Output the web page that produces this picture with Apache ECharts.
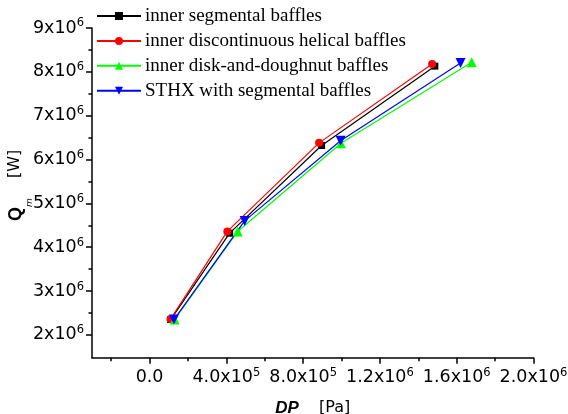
<!DOCTYPE html>
<html>
<head>
<meta charset="utf-8">
<script src="https://cdn.jsdelivr.net/npm/echarts@6/dist/echarts.min.js"></script>
<style>
  html, body { margin: 0; padding: 0; background: #fff; }
  #chart { width: 568px; height: 414px; }
</style>
</head>
<body>
<div id="chart"></div>
<script>
// Heat transfer rate vs. pressure drop for four baffle configurations
const seriesNames = [
  'inner segmental baffles',
  'inner discontinuous helical baffles',
  'inner disk-and-doughnut baffles',
  'STHX with segmental baffles'
];
// [pressure drop DP (Pa), heat rate Qm (W)]
const innerSegmental = [[1.10e5, 2.35e6], [4.17e5, 4.32e6], [8.96e5, 6.32e6], [1.486e6, 8.13e6]];
const innerHelical   = [[1.09e5, 2.36e6], [4.05e5, 4.36e6], [8.83e5, 6.38e6], [1.472e6, 8.18e6]];
const innerDisk      = [[1.30e5, 2.35e6], [4.59e5, 4.36e6], [9.97e5, 6.37e6], [1.678e6, 8.22e6]];
const sthxSegmental  = [[1.27e5, 2.35e6], [4.95e5, 4.60e6], [9.95e5, 6.43e6], [1.620e6, 8.20e6]];

const xMajorTicks = [0, 4e5, 8e5, 1.2e6, 1.6e6, 2.0e6];
const xMinorTicks = [-2e5, 2e5, 6e5, 1.0e6, 1.4e6, 1.8e6];
const yMajorTicks = [2e6, 3e6, 4e6, 5e6, 6e6, 7e6, 8e6, 9e6];
const yMinorTicks = [2.5e6, 3.5e6, 4.5e6, 5.5e6, 6.5e6, 7.5e6, 8.5e6];

const labelFont = 'DejaVu Sans';

function sciLabel(v, digits) {
  if (v === 0) return '{b|0.0}';
  const exp = Math.floor(Math.log10(Math.abs(v)) + 1e-9);
  const mant = v / Math.pow(10, exp);
  return '{b|' + mant.toFixed(digits) + 'x10}{s|' + exp + '}';
}

const richSci = {
  b: { fontFamily: labelFont, fontSize: 17.5, lineHeight: 21, color: '#000' },
  s: { fontFamily: labelFont, fontSize: 11.5, lineHeight: 11, verticalAlign: 'top', color: '#000' }
};

const axisLineStyle = { color: '#000', width: 1.5 };

const chart = echarts.init(document.getElementById('chart'), null, { renderer: 'canvas' });

function lineSeries(name, data, color, symbol, size, rotate) {
  return {
    name: name,
    type: 'line',
    data: data,
    xAxisIndex: 0,
    yAxisIndex: 0,
    symbol: symbol,
    symbolSize: size,
    symbolRotate: rotate || 0,
    showAllSymbol: true,
    lineStyle: { color: color, width: 1.2 },
    itemStyle: { color: color, borderWidth: 0 },
    emphasis: { disabled: true },
    animation: false
  };
}

chart.setOption({
  animation: false,
  backgroundColor: '#fff',
  grid: { left: 92, right: 34.5, top: 28, bottom: 56.3, containLabel: false, outerBoundsMode: 'none' },
  legend: {
    left: 96,
    top: 6,
    padding: 0,
    orient: 'vertical',
    itemWidth: 44,
    itemHeight: 10,
    itemGap: 4.9,
    textStyle: { fontFamily: 'Liberation Serif', fontSize: 19, lineHeight: 20, color: '#000', padding: [0, 0, 0, -1] },
    data: seriesNames
  },
  xAxis: [
    {
      type: 'value',
      min: -3e5,
      max: 2.0e6,
      position: 'bottom',
      splitLine: { show: false },
      axisLine: { show: true, onZero: false, lineStyle: axisLineStyle },
      axisTick: { show: true, inside: false, length: 6, lineStyle: axisLineStyle, customValues: xMajorTicks },
      axisLabel: {
        margin: 9,
        customValues: xMajorTicks,
        formatter: v => sciLabel(v, 1),
        rich: richSci
      },
      name: '{dp|DP}{pa|    [Pa]}',
      nameLocation: 'middle',
      nameGap: 42,
      nameMoveOverlap: false,
      nameTextStyle: {
        rich: {
          dp: { fontFamily: 'Liberation Sans', fontSize: 17, fontWeight: 'bold', fontStyle: 'italic', color: '#000' },
          pa: { fontFamily: labelFont, fontSize: 16, color: '#000' }
        }
      }
    },
    {
      type: 'value',
      min: -3e5,
      max: 2.0e6,
      position: 'bottom',
      splitLine: { show: false },
      axisLine: { show: false, onZero: false },
      axisTick: { show: true, inside: false, length: 3.5, lineStyle: axisLineStyle, customValues: xMinorTicks },
      axisLabel: { show: false }
    }
  ],
  yAxis: [
    {
      type: 'value',
      min: 1.48e6,
      max: 9e6,
      position: 'left',
      splitLine: { show: false },
      axisLine: { show: true, onZero: false, lineStyle: axisLineStyle },
      axisTick: { show: true, inside: false, length: 6, lineStyle: axisLineStyle, customValues: yMajorTicks },
      axisLabel: {
        margin: 8,
        customValues: yMajorTicks,
        formatter: v => sciLabel(v, 0).replace(/\.0*x/, 'x'),
        rich: richSci
      },
      name: '{q|Q}{m|m}{w|    [W]}',
      nameLocation: 'middle',
      nameRotate: 90,
      nameGap: 58,
      nameMoveOverlap: false,
      nameTextStyle: {
        padding: [0, 0, 0, 15],
        rich: {
          q: { fontFamily: 'Liberation Sans', fontSize: 18, fontWeight: 'bold', lineHeight: 18, verticalAlign: 'top', color: '#000' },
          m: { fontFamily: labelFont, fontSize: 9, fontStyle: 'italic', lineHeight: 27, verticalAlign: 'bottom', color: '#000' },
          w: { fontFamily: labelFont, fontSize: 16, lineHeight: 18, verticalAlign: 'top', color: '#000' }
        }
      }
    },
    {
      type: 'value',
      min: 1.48e6,
      max: 9e6,
      position: 'left',
      splitLine: { show: false },
      axisLine: { show: false, onZero: false },
      axisTick: { show: true, inside: false, length: 3.5, lineStyle: axisLineStyle, customValues: yMinorTicks },
      axisLabel: { show: false }
    }
  ],
  series: [
    lineSeries(seriesNames[0], innerSegmental, '#000000', 'rect', 7),
    lineSeries(seriesNames[1], innerHelical, '#ff0000', 'circle', 8),
    lineSeries(seriesNames[2], innerDisk, '#00ff00', 'triangle', 10),
    lineSeries(seriesNames[3], sthxSegmental, '#0000ff', 'triangle', 10, 180)
  ]
});
</script>
</body>
</html>
